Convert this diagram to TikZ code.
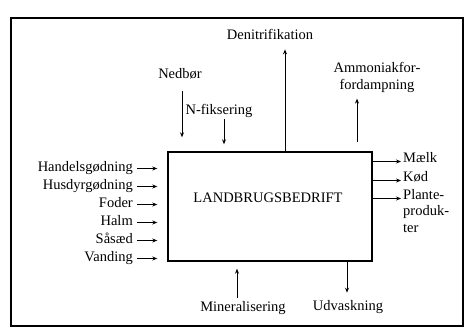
\documentclass[tikz,border=0pt]{standalone}
\usepackage{fontspec}
\setmainfont{Liberation Serif}
\usetikzlibrary{arrows.meta}
\begin{document}
\begin{tikzpicture}[x=1pt,y=-1pt,
  lbl/.style={font=\fontsize{14.5}{16.5}\selectfont, inner sep=0pt},
  arr/.style={-{Stealth[length=5pt,width=4pt]}, line width=0.9pt},
  framest/.style={draw, line width=1.8pt, minimum width=452pt, minimum height=308pt, inner sep=0pt},
  boxst/.style={draw, line width=1.4pt, minimum width=204pt, minimum height=109pt, inner sep=0pt}]
\useasboundingbox (0,0) rectangle (465,332);
\node[framest] (frame) at (237,172) {};
\node[boxst] (box) at (270,206.5) {};
\node[lbl] (lb) at (268,198) {LANDBRUGSBEDRIFT};
% inputs left
\node[lbl, anchor=base east] (hg) at (133,171) {Handelsgødning};
\node[lbl, anchor=base east] (hd) at (133,189) {Husdyrgødning};
\node[lbl, anchor=base east] (fo) at (133,207) {Foder};
\node[lbl, anchor=base east] (ha) at (133,225) {Halm};
\node[lbl, anchor=base east] (ss) at (133,243) {Såsæd};
\node[lbl, anchor=base east] (va) at (133,261) {Vanding};
\foreach \n in {hg,hd,fo,ha,ss,va}{
  \draw[arr, shorten <=4pt, shorten >=10pt] ([yshift=2.5pt]\n.base east) -- ([yshift=2.5pt]\n.base east -| box.west);
}
% outputs right
\node[lbl, anchor=base west] (ml) at (403,162) {Mælk};
\node[lbl, anchor=base west] (kd) at (403,181) {Kød};
\node[lbl, anchor=north west, align=left] (pl) at (403,189) {Plante-\\produk-\\ter};
\draw[arr, shorten >=2pt] ([yshift=0.5pt]ml.base west -| box.east) -- ([yshift=0.5pt]ml.base west);
\draw[arr, shorten >=2pt] ([yshift=0.5pt]kd.base west -| box.east) -- ([yshift=0.5pt]kd.base west);
\draw[arr, shorten >=2pt] ([yshift=-9.5pt]pl.north west -| box.east) -- ([yshift=-9.5pt]pl.north west);
% top
\node[lbl] (nb) at (180,74) {Nedbør};
\node[lbl] (nf) at (219,111) {N-fiksering};
\node[lbl] (dn) at (270,34) {Denitrifikation};
\node[lbl, align=center] (am) at (377,77.5) {Ammoniakfor-\\fordampning};
\draw[arr, shorten <=11pt, shorten >=14pt] ([xshift=2pt]nb.south) -- ([xshift=2pt]nb.south |- box.north);
\draw[arr, shorten <=1.5pt, shorten >=7pt] ([xshift=5pt]nf.south) -- ([xshift=5pt]nf.south |- box.north);
\draw[arr, shorten >=10pt] ([xshift=15pt]dn.south |- box.north) -- ([xshift=15pt]dn.south);
\draw[arr, shorten <=9pt, shorten >=6pt] ([xshift=-20pt]am.south |- box.north) -- ([xshift=-20pt]am.south);
% bottom
\node[lbl] (mi) at (243,308) {Mineralisering};
\node[lbl] (ud) at (348,307) {Udvaskning};
\draw[arr, shorten <=3pt, shorten >=7pt] ([xshift=-6pt]mi.north) -- ([xshift=-6pt]mi.north |- box.south);
\draw[arr, shorten >=7.5pt] ([xshift=-1pt]ud.north |- box.south) -- ([xshift=-1pt]ud.north);
\end{tikzpicture}
\end{document}
